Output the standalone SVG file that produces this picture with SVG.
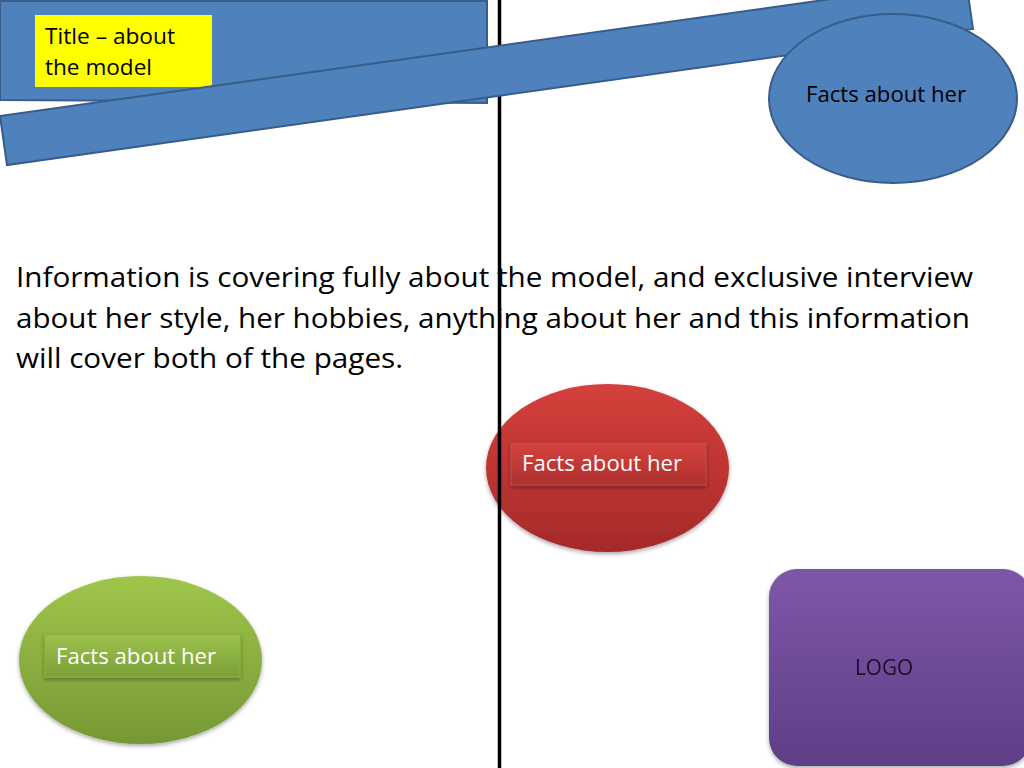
<svg xmlns="http://www.w3.org/2000/svg" width="1024" height="768" viewBox="0 0 1024 768">
<defs>
<style>
.blue{fill:#4f81bd;stroke:#385d8a;stroke-width:2}
.txt{font-family:"Open Sans","Liberation Sans",sans-serif;}
.dark{fill:#000}
.white{fill:#fff}
</style>
<linearGradient id="gRed" x1="0" y1="0" x2="0" y2="1">
<stop offset="0" stop-color="#d5403c"/><stop offset="1" stop-color="#a52a29"/>
</linearGradient>
<linearGradient id="gRedBox" x1="0" y1="0" x2="0" y2="1">
<stop offset="0" stop-color="#d4443f"/><stop offset="1" stop-color="#b02f2d"/>
</linearGradient>
<linearGradient id="gGreen" x1="0" y1="0" x2="0" y2="1">
<stop offset="0" stop-color="#9fc64a"/><stop offset="1" stop-color="#769834"/>
</linearGradient>
<linearGradient id="gGreenBox" x1="0" y1="0" x2="0" y2="1">
<stop offset="0" stop-color="#9cc24c"/><stop offset="1" stop-color="#7aa039"/>
</linearGradient>
<linearGradient id="gPurple" x1="0" y1="0" x2="0" y2="1">
<stop offset="0" stop-color="#7e57a8"/><stop offset="1" stop-color="#5d3f86"/>
</linearGradient>
<filter id="sh" x="-10%" y="-10%" width="120%" height="125%">
<feGaussianBlur in="SourceAlpha" stdDeviation="2"/>
<feOffset dx="0" dy="2" result="b"/>
<feComponentTransfer><feFuncA type="linear" slope="0.35"/></feComponentTransfer>
<feMerge><feMergeNode/><feMergeNode in="SourceGraphic"/></feMerge>
</filter>
</defs>
<rect width="1024" height="768" fill="#fff"/>

<g id="header-rect">
<polygon class="blue" points="0,1 487,1 487,103 0,100"/>
</g>

<g id="title-box">
<rect x="35" y="15" width="177" height="72" fill="#ffff00"/>
<text class="txt dark" x="45" y="44" font-size="21" textLength="130" lengthAdjust="spacingAndGlyphs">Title – about</text>
<text class="txt dark" x="45" y="75" font-size="21" textLength="107" lengthAdjust="spacingAndGlyphs">the model</text>
</g>

<g id="body-text">
<text class="txt dark" x="16" y="287" font-size="28" textLength="957" lengthAdjust="spacingAndGlyphs">Information is covering fully about the model, and exclusive interview</text>
<text class="txt dark" x="16" y="328" font-size="28" textLength="954" lengthAdjust="spacingAndGlyphs">about her style, her hobbies, anything about her and this information</text>
<text class="txt dark" x="16" y="368" font-size="28" textLength="387" lengthAdjust="spacingAndGlyphs">will cover both of the pages.</text>
</g>

<g id="red-ellipse">
<ellipse cx="607.5" cy="468" rx="121.5" ry="84" fill="url(#gRed)" filter="url(#sh)"/>
<rect x="511" y="443" width="195" height="42" fill="url(#gRedBox)" stroke="#c0504d" stroke-width="1" filter="url(#sh)"/>
<text class="txt white" x="522" y="471" font-size="21" textLength="160" lengthAdjust="spacingAndGlyphs">Facts about her</text>
</g>

<g id="connectors">
<line x1="499.5" y1="0" x2="499.5" y2="768" stroke="#000" stroke-width="3.5"/>
</g>

<g id="slanted-bar">
<polygon class="blue" points="0,116 7,165 973,29 966,-20"/>
</g>

<g id="blue-ellipse">
<ellipse class="blue" cx="893" cy="98.5" rx="124" ry="84.5"/>
<text class="txt dark" x="806" y="102" font-size="21" textLength="160" lengthAdjust="spacingAndGlyphs">Facts about her</text>
</g>

<g id="green-ellipse">
<ellipse cx="140.5" cy="660" rx="121.5" ry="84" fill="url(#gGreen)" filter="url(#sh)"/>
<rect x="45" y="635" width="195" height="42" fill="url(#gGreenBox)" stroke="#8db446" stroke-width="1" filter="url(#sh)"/>
<text class="txt white" x="56" y="664" font-size="21" textLength="160" lengthAdjust="spacingAndGlyphs">Facts about her</text>
</g>

<g id="logo" filter="url(#sh)">
<rect x="769" y="569" width="262" height="197" rx="28" fill="url(#gPurple)"/>
<text class="txt" x="855" y="675" font-size="21" fill="#1a0f26" textLength="58" lengthAdjust="spacingAndGlyphs">LOGO</text>
</g>
</svg>
